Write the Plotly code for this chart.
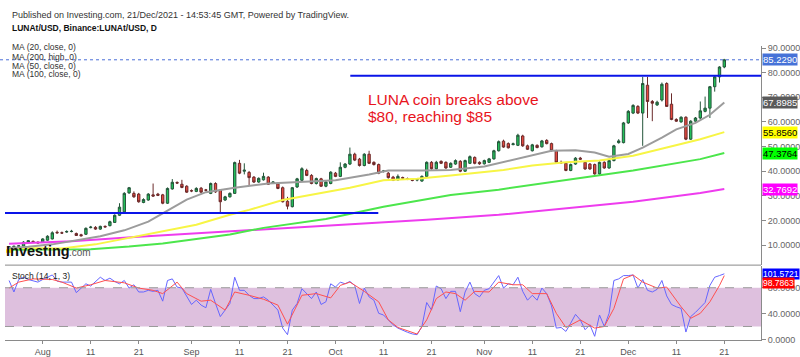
import plotly.graph_objects as go
from plotly.subplots import make_subplots
import pandas as pd

# ---------------- data ----------------
dates = pd.date_range("2021-07-25", "2021-12-21", freq="D")

opens = [9.1, 9.3, 9.5, 9.6, 11.0, 11.5, 11.2, 11.2, 12.0, 12.5,
         15.2, 15.0, 15.3, 15.5, 14.7, 14.2, 14.4, 17.1, 17.2, 16.5,
         17.6, 17.9, 19.2, 22.1, 23.5, 31.2, 31.0, 30.7, 27.3, 28.3,
         30.4, 30.7, 30.4, 27.0, 32.8, 35.4, 34.7, 33.9, 32.1, 31.8,
         33.1, 32.4, 31.0, 35.0, 32.3, 28.3, 29.6, 31.0, 43.2, 40.0,
         39.5, 37.6, 35.6, 36.5, 37.6, 35.2, 34.9, 33.3, 27.8, 25.6,
         33.6, 36.3, 40.3, 38.3, 35.0, 36.9, 33.9, 35.0, 39.2, 37.9,
         41.6, 42.9, 46.9, 44.9, 42.3, 46.9, 43.6, 42.7, 39.9, 39.2,
         37.6, 36.5, 37.4, 36.9, 36.5, 36.4, 36.0, 37.9, 43.6, 41.0,
         44.0, 43.6, 41.6, 42.9, 44.0, 40.0, 43.2, 45.6, 43.6, 43.0,
         43.6, 45.0, 48.3, 52.2, 51.2, 50.8, 50.5, 54.3, 50.3, 48.3,
         50.5, 49.9, 52.5, 51.2, 48.3, 43.6, 43.2, 40.3, 42.9, 45.3,
         43.6, 42.9, 42.7, 38.9, 43.6, 41.3, 44.3, 51.6, 51.6, 59.6,
         63.6, 66.3, 63.6, 74.9, 68.3, 66.9, 68.9, 75.6, 67.2, 61.0,
         60.0, 61.9, 53.0, 60.3, 61.6, 64.3, 65.6, 74.3, 78.3, 82.3]
highs = [9.6, 9.8, 10.0, 11.6, 12.0, 11.9, 11.5, 12.8, 14.0, 15.6,
         15.9, 15.5, 16.0, 16.2, 15.1, 14.6, 17.2, 17.8, 17.7, 17.9,
         18.0, 19.9, 22.5, 27.0, 31.5, 33.6, 31.8, 31.2, 29.0, 31.1,
         35.0, 31.2, 30.8, 33.4, 36.8, 35.9, 36.5, 34.3, 32.6, 33.5,
         33.6, 32.8, 35.4, 35.5, 32.7, 30.0, 31.4, 43.9, 44.6, 43.2,
         40.1, 38.0, 37.5, 39.4, 38.0, 35.9, 35.5, 33.8, 29.6, 33.6,
         37.3, 41.6, 41.0, 38.8, 37.4, 37.3, 36.0, 40.0, 39.7, 43.6,
         43.3, 49.6, 47.5, 45.4, 47.3, 48.3, 44.0, 43.1, 40.5, 39.7,
         38.1, 38.7, 37.8, 37.4, 37.0, 36.9, 38.3, 44.0, 44.1, 44.2,
         44.4, 44.0, 43.6, 44.8, 44.5, 44.7, 46.4, 46.0, 44.0, 44.7,
         45.4, 48.7, 52.5, 52.8, 51.7, 51.6, 55.2, 54.8, 50.8, 51.1,
         50.9, 52.7, 53.0, 51.6, 48.7, 44.3, 43.6, 43.1, 45.7, 45.8,
         44.0, 43.3, 43.1, 44.0, 44.0, 44.7, 50.7, 53.0, 60.0, 64.8,
         67.2, 66.8, 78.3, 78.3, 68.9, 68.6, 76.0, 76.1, 71.6, 61.5,
         62.3, 62.3, 60.7, 62.0, 68.3, 70.3, 74.6, 78.6, 82.6, 85.6]
lows = [8.9, 9.0, 9.2, 9.4, 10.8, 10.9, 10.6, 11.0, 11.8, 12.3,
        14.6, 14.5, 15.0, 15.2, 13.7, 13.5, 14.1, 16.8, 16.2, 16.2,
        17.1, 17.6, 19.0, 21.8, 23.2, 30.8, 29.2, 27.2, 27.0, 28.0,
        29.6, 29.9, 26.6, 26.7, 32.5, 34.8, 33.1, 31.2, 31.5, 31.5,
        31.2, 31.8, 30.7, 31.2, 23.2, 27.9, 29.3, 30.8, 38.8, 38.7,
        34.4, 35.2, 35.3, 36.2, 34.4, 34.8, 32.7, 27.3, 24.5, 25.3,
        33.2, 36.0, 38.0, 34.7, 34.6, 33.6, 33.5, 34.7, 37.6, 37.6,
        41.2, 42.5, 44.1, 41.9, 42.0, 42.9, 42.3, 38.8, 39.5, 37.0,
        36.0, 36.2, 36.9, 36.4, 35.9, 35.9, 35.7, 37.6, 40.6, 40.7,
        42.9, 41.0, 41.3, 42.6, 39.6, 39.7, 42.9, 42.8, 42.6, 42.7,
        43.3, 44.7, 48.0, 49.5, 49.2, 50.5, 50.2, 49.9, 48.6, 48.0,
        49.3, 49.6, 50.9, 48.0, 43.3, 43.0, 40.0, 40.0, 42.6, 44.6,
        40.6, 40.6, 38.6, 38.4, 41.0, 41.0, 44.0, 51.2, 51.3, 59.2,
        63.2, 63.2, 50.3, 61.6, 60.3, 66.5, 68.3, 66.3, 60.7, 60.0,
        59.7, 52.6, 52.7, 60.0, 61.0, 63.9, 61.6, 72.3, 76.0, 81.8]
closes = [9.3, 9.5, 9.7, 11.2, 11.8, 11.1, 10.9, 12.5, 13.6, 15.0,
          15.0, 14.9, 15.5, 15.6, 13.9, 13.8, 16.8, 17.3, 16.5, 17.6,
          17.4, 19.5, 22.1, 25.4, 31.0, 33.3, 29.6, 27.6, 28.5, 30.7,
          29.9, 30.2, 27.0, 33.0, 35.5, 35.2, 33.4, 31.5, 32.0, 33.0,
          31.5, 32.3, 35.0, 31.6, 27.6, 29.6, 31.0, 43.5, 39.2, 40.4,
          37.4, 35.6, 37.1, 37.9, 34.7, 35.6, 33.0, 27.6, 25.8, 33.3,
          36.9, 41.0, 38.3, 35.0, 37.0, 33.9, 35.6, 39.6, 37.9, 41.6,
          42.9, 46.9, 44.5, 42.3, 46.9, 43.2, 42.7, 39.2, 40.1, 37.4,
          36.3, 37.9, 37.2, 36.8, 36.3, 36.6, 37.9, 43.6, 41.0, 43.6,
          43.2, 41.3, 43.2, 44.3, 40.0, 44.3, 45.9, 43.2, 43.0, 44.3,
          45.0, 48.3, 52.0, 49.8, 49.5, 51.1, 54.6, 50.3, 48.9, 50.7,
          49.6, 52.3, 51.2, 48.3, 43.6, 43.4, 40.3, 42.7, 45.3, 44.9,
          40.9, 40.9, 38.9, 43.6, 41.3, 44.3, 50.3, 52.3, 59.6, 64.3,
          66.7, 63.6, 75.6, 68.3, 67.6, 68.0, 75.3, 66.3, 61.0, 60.3,
          61.9, 53.0, 60.3, 61.6, 64.5, 65.6, 74.3, 78.3, 82.3, 85.229]

ma20_dates = ["2021-07-25", "2021-07-29", "2021-08-03", "2021-08-08", "2021-08-13",
              "2021-08-18", "2021-08-23", "2021-08-27", "2021-08-31", "2021-09-04",
              "2021-09-10", "2021-09-17", "2021-09-24", "2021-10-01", "2021-10-08",
              "2021-10-12", "2021-10-19", "2021-10-25", "2021-11-01", "2021-11-05",
              "2021-11-10", "2021-11-15", "2021-11-20", "2021-11-24", "2021-11-27",
              "2021-12-01", "2021-12-04", "2021-12-08", "2021-12-11", "2021-12-15",
              "2021-12-18", "2021-12-21"]
ma20_vals = [8.8, 9.3, 10.3, 11.8, 13.6, 16.0, 19.5, 24.0, 28.5, 31.5,
             33.3, 35.0, 35.6, 36.3, 38.7, 40.3, 40.3, 40.5, 41.9, 43.8,
             45.9, 48.3, 48.5, 47.6, 45.9, 47.0, 49.6, 53.6, 57.0, 59.6,
             62.9, 67.8985]

ma50_dates = ["2021-07-25", "2021-08-05", "2021-08-12", "2021-08-19", "2021-08-26",
              "2021-09-02", "2021-09-09", "2021-09-13", "2021-09-20", "2021-09-27",
              "2021-10-04", "2021-10-11", "2021-10-18", "2021-10-25", "2021-11-01",
              "2021-11-05", "2021-11-11", "2021-11-18", "2021-11-25", "2021-12-02",
              "2021-12-09", "2021-12-16", "2021-12-21"]
ma50_vals = [8.8, 8.6, 10.3, 13.0, 15.6, 18.3, 22.3, 24.3, 28.3, 30.9,
             33.3, 36.3, 36.9, 38.3, 39.6, 40.5, 42.3, 43.6, 44.3, 46.3,
             49.6, 53.0, 55.856]

ma100_dates = ["2021-07-25", "2021-08-11", "2021-08-19", "2021-08-26", "2021-09-02",
               "2021-09-09", "2021-09-16", "2021-09-29", "2021-10-11", "2021-10-25",
               "2021-11-04", "2021-11-18", "2021-12-02", "2021-12-16", "2021-12-21"]
ma100_vals = [8.1, 8.3, 9.4, 10.7, 12.5, 14.3, 17.0, 20.6, 25.6, 30.3,
              32.5, 36.3, 40.3, 44.9, 47.3764]

ma200_dates = ["2021-07-25", "2021-08-07", "2021-08-21", "2021-09-04", "2021-09-18",
               "2021-10-02", "2021-10-20", "2021-11-04", "2021-11-18", "2021-12-02",
               "2021-12-16", "2021-12-21"]
ma200_vals = [10.6, 11.6, 13.4, 15.0, 16.5, 18.2, 20.3, 22.3, 24.9, 27.6, 31.2, 32.7692]

stoch_k = [91.2, 73.4, 92.7, 96.3, 92.7, 91.2, 88.7, 92.7, 96.3, 99.8,
           90.2, 88.7, 88.7, 88.7, 72.4, 79.5, 86.1, 82.6, 88.7, 96.3,
           91.2, 94.8, 89.7, 86.1, 91.2, 79.5, 84.6, 73.4, 73.4, 76.0,
           74.4, 76.0, 59.2, 91.2, 93.7, 81.0, 79.5, 65.8, 54.1, 60.7,
           53.1, 49.0, 77.5, 55.6, 35.3, 45.4, 55.6, 96.3, 76.0, 76.0,
           68.3, 63.2, 63.2, 65.8, 60.7, 53.1, 45.4, 17.5, 7.3, 45.4,
           55.6, 78.5, 70.9, 63.2, 73.4, 54.1, 58.2, 86.1, 81.0, 88.7,
           86.1, 89.7, 83.6, 55.6, 79.5, 65.8, 60.7, 40.4, 37.8, 30.2,
           22.6, 17.5, 14.0, 11.0, 8.5, 7.3, 20.0, 57.1, 45.4, 82.6,
           78.5, 63.2, 74.4, 74.4, 42.9, 73.4, 88.7, 70.9, 65.8, 76.0,
           78.5, 88.7, 98.8, 79.5, 86.1, 84.6, 96.3, 74.4, 60.7, 68.3,
           60.7, 79.5, 70.9, 52.1, 17.5, 18.5, 12.4, 25.1, 38.8, 30.2,
           15.0, 22.6, 4.8, 37.8, 20.0, 40.4, 91.2, 93.7, 98.8, 98.8,
           99.8, 79.5, 92.7, 76.0, 73.4, 77.5, 91.2, 67.3, 54.1, 50.5,
           48.0, 11.4, 35.3, 41.9, 49.0, 57.1, 83.6, 96.3, 98.8, 101.5721]

stoch_d_dates = ["2021-07-25", "2021-07-27", "2021-07-30", "2021-08-03", "2021-08-05",
                 "2021-08-08", "2021-08-11", "2021-08-14", "2021-08-18", "2021-08-21",
                 "2021-08-24", "2021-08-26", "2021-08-29", "2021-08-31", "2021-09-03",
                 "2021-09-05", "2021-09-08", "2021-09-10", "2021-09-13", "2021-09-16",
                 "2021-09-19", "2021-09-21", "2021-09-24", "2021-09-27", "2021-09-30",
                 "2021-10-02", "2021-10-04", "2021-10-07", "2021-10-10", "2021-10-12",
                 "2021-10-14", "2021-10-18", "2021-10-20", "2021-10-22", "2021-10-24",
                 "2021-10-26", "2021-10-28", "2021-10-30", "2021-11-02", "2021-11-04",
                 "2021-11-07", "2021-11-09", "2021-11-11", "2021-11-14", "2021-11-16",
                 "2021-11-18", "2021-11-21", "2021-11-24", "2021-11-26", "2021-11-28",
                 "2021-11-30", "2021-12-02", "2021-12-04", "2021-12-07", "2021-12-09",
                 "2021-12-12", "2021-12-14", "2021-12-16", "2021-12-18", "2021-12-20",
                 "2021-12-21"]
stoch_d_vals = [79.5, 88.7, 93.7, 92.7, 88.7, 79.5, 84.6, 91.2, 87.6, 79.5,
                76.0, 70.9, 88.7, 70.9, 59.2, 60.7, 45.4, 73.4, 68.3, 62.2,
                53.1, 23.6, 68.3, 70.9, 64.3, 83.6, 88.7, 74.4, 58.2, 30.2,
                18.5, 8.3, 30.2, 63.2, 73.4, 70.9, 60.7, 74.4, 73.4, 88.7,
                84.6, 84.6, 70.9, 70.9, 40.4, 18.5, 30.2, 17.5, 20.0, 48.0,
                93.7, 99.8, 88.7, 79.5, 81.0, 50.5, 32.7, 40.4, 58.2, 83.6,
                98.7863]

support_level = 23.0
support_end = "2021-10-09 22:00"
resistance_level = 78.7
resistance_start = "2021-10-04 02:00"
last_price = 85.229

price_ticks = [10, 20, 30, 40, 50, 60, 70, 80, 90]
stoch_ticks = [0, 40, 80]
x_tick_dates = ["2021-08-01", "2021-08-11", "2021-08-21", "2021-09-01", "2021-09-11",
                "2021-09-21", "2021-10-01", "2021-10-11", "2021-10-21", "2021-11-01",
                "2021-11-11", "2021-11-21", "2021-12-01", "2021-12-11", "2021-12-21"]
x_tick_text = ["Aug", "11", "21", "Sep", "11", "21", "Oct", "11", "21", "Nov",
               "11", "21", "Dec", "11", "21"]

# ---------------- geometry helpers ----------------
W, H = 800, 357
ML, MR, MT, MB = 5, 39, 0, 15
PW, PH = W - ML - MR, H - MT - MB


def py(pix):  # pixel y -> paper
    return 1 - (pix - MT) / PH


def px(pix):  # pixel x -> paper
    return (pix - ML) / PW


FONT = "Arial, Liberation Sans, sans-serif"
x_range = ["2021-07-24 03:30", "2021-12-28 15:30"]

fig = make_subplots(rows=2, cols=1, shared_xaxes=True, vertical_spacing=0.0)

fig.add_trace(go.Scatter(x=ma200_dates, y=ma200_vals, mode="lines",
                         line=dict(color="#ee3cee", width=2), hoverinfo="skip"), row=1, col=1)
fig.add_trace(go.Scatter(x=ma100_dates, y=ma100_vals, mode="lines",
                         line=dict(color="#4ce64c", width=2), hoverinfo="skip"), row=1, col=1)
fig.add_trace(go.Scatter(x=ma50_dates, y=ma50_vals, mode="lines",
                         line=dict(color="#f7f545", width=2), hoverinfo="skip"), row=1, col=1)
fig.add_trace(go.Scatter(x=ma20_dates, y=ma20_vals, mode="lines",
                         line=dict(color="#9c9c9c", width=2), hoverinfo="skip"), row=1, col=1)

fig.add_trace(go.Candlestick(
    x=dates, open=opens, high=highs, low=lows, close=closes,
    increasing=dict(line=dict(color="#24553a", width=1), fillcolor="#22c25a"),
    decreasing=dict(line=dict(color="#6a2a2a", width=1), fillcolor="#e8493f"),
    whiskerwidth=0, showlegend=False), row=1, col=1)

fig.add_trace(go.Scatter(x=dates, y=stoch_k, mode="lines",
                         line=dict(color="#6666ff", width=1), hoverinfo="skip"), row=2, col=1)
fig.add_trace(go.Scatter(x=stoch_d_dates, y=stoch_d_vals, mode="lines",
                         line=dict(color="#ff5050", width=1), hoverinfo="skip"), row=2, col=1)

shapes = []
shapes.append(dict(type="rect", xref="paper", yref="y2", x0=0, x1=1, y0=20, y1=80,
                   fillcolor="#dec0de", line=dict(width=0), layer="below"))
for lv in (20, 80):
    shapes.append(dict(type="line", xref="paper", yref="y2", x0=0, x1=1, y0=lv, y1=lv,
                       line=dict(color="#9a9a9a", width=1, dash="dash")))
shapes.append(dict(type="line", xref="paper", yref="paper", x0=0, x1=1,
                   y0=py(266), y1=py(266), line=dict(color="#8a8a8a", width=1)))
shapes.append(dict(type="line", xref="paper", yref="y", x0=px(0), x1=1,
                   y0=last_price, y1=last_price,
                   line=dict(color="#4a6fd8", width=1, dash="dot")))
shapes.append(dict(type="line", xref="x", yref="y", x0=x_range[0], x1=support_end,
                   y0=support_level, y1=support_level, line=dict(color="#0a14e8", width=2)))
shapes.append(dict(type="line", xref="x", yref="y", x0=resistance_start, x1=x_range[1],
                   y0=resistance_level, y1=resistance_level, line=dict(color="#0a14e8", width=2)))
shapes.append(dict(type="rect", xref="paper", yref="paper", x0=px(6), x1=px(13),
                   y0=py(253.5), y1=py(250), fillcolor="#ffe800", line=dict(width=0)))

ann = []


def txt(x, y, s, size, color="#222", bold=False, anchor="left"):
    if bold:
        s = "<b>" + s + "</b>"
    ann.append(dict(x=px(x), y=py(y), xref="paper", yref="paper", text=s, showarrow=False,
                    xanchor=anchor, yanchor="middle", font=dict(family=FONT, size=size, color=color)))


txt(10, 12.3, "Published on Investing.com, 21/Dec/2021 - 14:53:45 GMT, Powered by TradingView.", 9, "#333")
txt(10, 25, "LUNAt/USD, Binance:LUNAt/USD, D", 8.5, "#111", bold=True)
txt(10, 45, "MA (20, close, 0)", 8.5, "#333")
txt(10, 54.5, "MA (200, high, 0)", 8.5, "#333")
txt(10, 63.5, "MA (50, close, 0)", 8.5, "#333")
txt(10, 72.5, "MA (100, close, 0)", 8.5, "#333")
txt(366, 98, "LUNA coin breaks above", 15.5, "#e8141c")
txt(366, 115, "$80, reaching $85", 15.5, "#e8141c")
txt(10, 276.7, "Stoch (14, 1, 3)", 8.5, "#222")
txt(4, 252, "Investing", 14.5, "#111", bold=True)
txt(67, 253.5, ".com", 10, "#555")

# value labels on the price axis (at their values)
value_labels = [(last_price, "85.2290", "#4672d8", "white"),
                (67.8985, "67.8985", "#5a5a5a", "white"),
                (55.856, "55.8560", "#ffff00", "black"),
                (47.3764, "47.3764", "#00ff00", "black"),
                (32.7692, "32.7692", "#ff00ff", "white")]
for v, t, bg, fc in value_labels:
    ann.append(dict(x=1, y=v, xref="paper", yref="y", text=t, showarrow=False,
                    xanchor="left", yanchor="middle", xshift=1, bgcolor=bg, borderpad=0,
                    font=dict(family=FONT, size=9.5, color=fc)))

# stochastic last-value labels (stacked so they do not collide, as in the original)
stoch_labels = [("101.5721", "#0000ff", 275.0), ("98.7863", "#ff0000", 284.3)]
for t, bg, pix in stoch_labels:
    ann.append(dict(x=1, y=py(pix), xref="paper", yref="paper", text=t, showarrow=False,
                    xanchor="left", yanchor="middle", xshift=1, bgcolor=bg, borderpad=0,
                    font=dict(family=FONT, size=8.5, color="white")))

fig.update_layout(
    width=W, height=H, margin=dict(l=ML, r=MR, t=MT, b=MB),
    paper_bgcolor="white", plot_bgcolor="white", showlegend=False,
    shapes=shapes, annotations=ann,
    xaxis=dict(range=x_range, showgrid=False, showticklabels=False, showline=False,
               zeroline=False, rangeslider=dict(visible=False), type="date"),
    xaxis2=dict(range=x_range, showgrid=False, showline=True, linecolor="#8a8a8a",
                zeroline=False, tickvals=x_tick_dates, ticktext=x_tick_text,
                ticks="outside", ticklen=3, tickcolor="#8a8a8a",
                tickfont=dict(family=FONT, size=9, color="#555"), type="date"),
    yaxis=dict(domain=[py(266), py(44)], range=[1.88, 90.68], side="right",
               showgrid=False, zeroline=False, showline=True, linecolor="#8a8a8a",
               tickvals=price_ticks, tickformat=".4f", ticks="outside", ticklen=4,
               tickcolor="#8a8a8a", tickfont=dict(family=FONT, size=9, color="#666")),
    yaxis2=dict(domain=[0, py(267)], range=[-0.92, 113.5], side="right",
                showgrid=False, zeroline=False, showline=True, linecolor="#8a8a8a",
                tickvals=stoch_ticks, tickformat=".4f", ticks="outside", ticklen=4,
                tickcolor="#8a8a8a", tickfont=dict(family=FONT, size=9, color="#666")),
)

fig.write_html("out.html", config={"displayModeBar": False},
               post_script="document.body.style.margin='0px';document.body.style.overflow='hidden';")
